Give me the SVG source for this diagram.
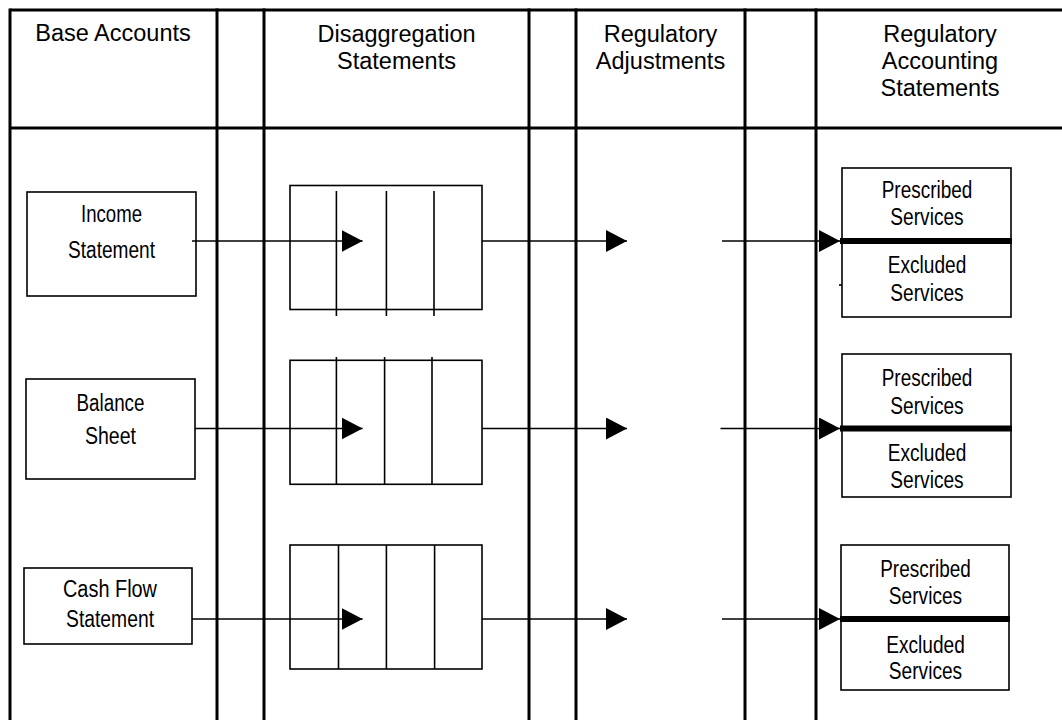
<svg xmlns="http://www.w3.org/2000/svg" width="1062" height="720" viewBox="0 0 1062 720">
<defs>
<marker id="arr" markerUnits="userSpaceOnUse" markerWidth="21" markerHeight="22" refX="21" refY="11" orient="auto">
<path d="M0,0 L21,11 L0,22 z" fill="#000"/>
</marker>
<style>
.frame{stroke:#000;stroke-width:3;fill:none}
.box{stroke:#000;stroke-width:1.6;fill:#fff}
.thin{stroke:#000;stroke-width:1.6;fill:none}
.thick{stroke:#000;stroke-width:6;fill:none}
.hdr{font-family:"Liberation Sans",Arial,sans-serif;font-size:23.5px;fill:#000;text-anchor:middle}
.lbl{font-family:"Liberation Sans Narrow","Liberation Sans",Arial,sans-serif;font-size:23px;fill:#000;text-anchor:middle}
</style>
</defs>
<rect width="1062" height="720" fill="#fff"/>
<g id="frame">
<line class="frame" x1="10" y1="10" x2="1070" y2="10"/>
<line class="frame" x1="10" y1="128" x2="1070" y2="128"/>
<line class="frame" x1="10" y1="8.5" x2="10" y2="730"/>
<line class="frame" x1="217" y1="8.5" x2="217" y2="730"/>
<line class="frame" x1="264" y1="8.5" x2="264" y2="730"/>
<line class="frame" x1="529" y1="8.5" x2="529" y2="730"/>
<line class="frame" x1="576" y1="8.5" x2="576" y2="730"/>
<line class="frame" x1="745" y1="8.5" x2="745" y2="730"/>
<line class="frame" x1="816" y1="8.5" x2="816" y2="730"/>
</g>
<g id="headers">
<text class="hdr" x="113" y="41">Base Accounts</text>
<text class="hdr" x="396.5" y="42">Disaggregation</text>
<text class="hdr" x="396.5" y="69">Statements</text>
<text class="hdr" x="660.5" y="42">Regulatory</text>
<text class="hdr" x="660.5" y="69">Adjustments</text>
<text class="hdr" x="940" y="42">Regulatory</text>
<text class="hdr" x="940" y="69">Accounting</text>
<text class="hdr" x="940" y="96">Statements</text>
</g>
<g id="income-statement">
<rect class="box" x="27" y="192" width="169" height="104"/>
<text class="lbl" x="111.5" y="221.6" textLength="61" lengthAdjust="spacingAndGlyphs">Income</text>
<text class="lbl" x="111.5" y="257.8" textLength="87" lengthAdjust="spacingAndGlyphs">Statement</text>
</g>
<g id="balance-sheet">
<rect class="box" x="26" y="379" width="169" height="100"/>
<text class="lbl" x="110.5" y="411" textLength="68" lengthAdjust="spacingAndGlyphs">Balance</text>
<text class="lbl" x="110.5" y="443.6" textLength="51" lengthAdjust="spacingAndGlyphs">Sheet</text>
</g>
<g id="cash-flow-statement">
<rect class="box" x="24" y="568" width="168" height="76"/>
<text class="lbl" x="110" y="597" textLength="94" lengthAdjust="spacingAndGlyphs">Cash Flow</text>
<text class="lbl" x="110" y="627" textLength="88" lengthAdjust="spacingAndGlyphs">Statement</text>
</g>
<g id="disagg-1">
<rect class="box" x="290" y="185.5" width="192" height="124"/>
<line class="thin" x1="336.4" y1="191" x2="336.4" y2="316"/>
<line class="thin" x1="386.4" y1="191" x2="386.4" y2="316"/>
<line class="thin" x1="434" y1="191" x2="434" y2="316"/>
</g>
<g id="disagg-2">
<rect class="box" x="290" y="360.3" width="192" height="124"/>
<line class="thin" x1="336.4" y1="357" x2="336.4" y2="484.3"/>
<line class="thin" x1="384.6" y1="357" x2="384.6" y2="484.3"/>
<line class="thin" x1="432" y1="357" x2="432" y2="484.3"/>
</g>
<g id="disagg-3">
<rect class="box" x="290" y="545" width="192" height="124"/>
<line class="thin" x1="338.5" y1="545" x2="338.5" y2="669"/>
<line class="thin" x1="386.4" y1="545" x2="386.4" y2="669"/>
<line class="thin" x1="434.6" y1="545" x2="434.6" y2="669"/>
</g>
<g id="services-1">
<rect class="box" x="842" y="168" width="169" height="149"/>
<line class="thin" x1="839" y1="285" x2="842" y2="285"/>
<text class="lbl" x="927" y="197.6" textLength="90.6" lengthAdjust="spacingAndGlyphs">Prescribed</text>
<text class="lbl" x="927" y="225" textLength="73.3" lengthAdjust="spacingAndGlyphs">Services</text>
<text class="lbl" x="927" y="272.7" textLength="78.5" lengthAdjust="spacingAndGlyphs">Excluded</text>
<text class="lbl" x="927" y="301" textLength="73.3" lengthAdjust="spacingAndGlyphs">Services</text>
</g>
<g id="services-2">
<rect class="box" x="842" y="354" width="169" height="143"/>
<text class="lbl" x="927" y="386" textLength="90.6" lengthAdjust="spacingAndGlyphs">Prescribed</text>
<text class="lbl" x="927" y="413.6" textLength="73.3" lengthAdjust="spacingAndGlyphs">Services</text>
<text class="lbl" x="927" y="461.4" textLength="78.5" lengthAdjust="spacingAndGlyphs">Excluded</text>
<text class="lbl" x="927" y="488" textLength="73.3" lengthAdjust="spacingAndGlyphs">Services</text>
</g>
<g id="services-3">
<rect class="box" x="841" y="545" width="168" height="145"/>
<text class="lbl" x="925.5" y="577" textLength="90.6" lengthAdjust="spacingAndGlyphs">Prescribed</text>
<text class="lbl" x="925.5" y="604" textLength="73.3" lengthAdjust="spacingAndGlyphs">Services</text>
<text class="lbl" x="925.5" y="652.6" textLength="78.5" lengthAdjust="spacingAndGlyphs">Excluded</text>
<text class="lbl" x="925.5" y="679" textLength="73.3" lengthAdjust="spacingAndGlyphs">Services</text>
</g>
<g id="connectors">
<line class="thin" x1="192" y1="241" x2="362.6" y2="241" marker-end="url(#arr)"/>
<line class="thin" x1="482" y1="241" x2="627" y2="241" marker-end="url(#arr)"/>
<line class="thin" x1="722" y1="241" x2="840" y2="241" marker-end="url(#arr)"/>
<line class="thick" x1="840" y1="241" x2="1012" y2="241"/>
<line class="thin" x1="195" y1="428.5" x2="362.6" y2="428.5" marker-end="url(#arr)"/>
<line class="thin" x1="482" y1="428.5" x2="627" y2="428.5" marker-end="url(#arr)"/>
<line class="thin" x1="720.5" y1="428.5" x2="840" y2="428.5" marker-end="url(#arr)"/>
<line class="thick" x1="840" y1="428.5" x2="1012" y2="428.5"/>
<line class="thin" x1="192" y1="619" x2="362.6" y2="619" marker-end="url(#arr)"/>
<line class="thin" x1="482" y1="619" x2="627" y2="619" marker-end="url(#arr)"/>
<line class="thin" x1="722" y1="619" x2="840" y2="619" marker-end="url(#arr)"/>
<line class="thick" x1="840" y1="619" x2="1010" y2="619"/>
</g>
</svg>
